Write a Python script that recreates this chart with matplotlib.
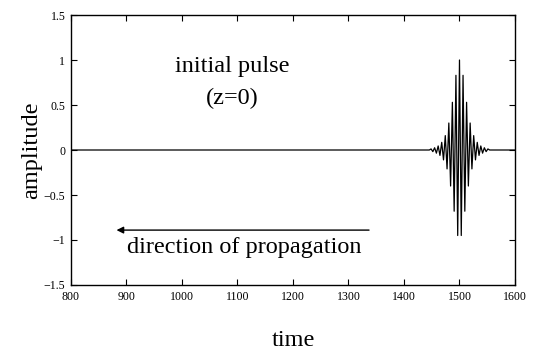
import matplotlib
matplotlib.use("Agg")
from matplotlib import pyplot as plt
from matplotlib.ticker import FuncFormatter

# extrema of the initial pulse (time, amplitude)
pulse_time = [800, 1445.6,
              1448.8, 1452.0, 1455.2, 1458.4, 1461.6, 1464.8, 1468.0, 1471.2,
              1474.4, 1477.6, 1480.8, 1484.0, 1487.2, 1490.4, 1493.6, 1496.8,
              1500.0,
              1503.2, 1506.4, 1509.6, 1512.8, 1516.0, 1519.2, 1522.4, 1525.6,
              1528.8, 1532.0, 1535.2, 1538.4, 1541.6, 1544.8, 1548.0, 1551.2,
              1554.4, 1600]
pulse_amp = [0.0, 0.0,
             0.012, -0.018, 0.025, -0.035, 0.045, -0.06, 0.085, -0.11,
             0.16, -0.21, 0.30, -0.40, 0.53, -0.68, 0.83, -0.95,
             1.0,
             -0.95, 0.83, -0.68, 0.53, -0.40, 0.30, -0.21, 0.16,
             -0.11, 0.085, -0.06, 0.045, -0.035, 0.025, -0.018, 0.012,
             0.0, 0.0]

x_ticks = [800, 900, 1000, 1100, 1200, 1300, 1400, 1500, 1600]
y_ticks = [-1.5, -1, -0.5, 0, 0.5, 1, 1.5]

plt.rcParams['font.family'] = ['Liberation Serif', 'DejaVu Serif']
plt.rcParams['axes.unicode_minus'] = True

fig = plt.figure(figsize=(5.33, 3.55), dpi=100)
ax = fig.add_axes([0.1332, 0.1972, 0.833, 0.7605])

ax.plot(pulse_time, pulse_amp, color='black', linewidth=0.9)

ax.set_xlim(800, 1600)
ax.set_ylim(-1.5, 1.5)
ax.set_xticks(x_ticks)
ax.set_yticks(y_ticks)
ax.yaxis.set_major_formatter(FuncFormatter(lambda v, p: ('%g' % v).replace('-', '\u2212')))
ax.tick_params(direction='in', top=True, right=True, length=4, width=0.8,
               labelsize=8.6, pad=4)
for s in ax.spines.values():
    s.set_linewidth(1.0)

ax.set_xlabel('time', fontsize=17.5, labelpad=20)
ax.set_ylabel('amplitude', fontsize=17.5, labelpad=1)

# annotations
ax.text(1090, 0.93, 'initial pulse', fontsize=17.5, ha='center', va='center')
ax.text(1090, 0.57, '(z=0)', fontsize=17.5, ha='center', va='center')
ax.annotate('', xy=(882, -0.89), xytext=(1337, -0.89),
            arrowprops=dict(arrowstyle='-|>', color='black', lw=1.0,
                            mutation_scale=10, shrinkA=0, shrinkB=0))
ax.text(1112, -1.08, 'direction of propagation', fontsize=17.5,
        ha='center', va='center')

fig.savefig('out.png', dpi=100)
